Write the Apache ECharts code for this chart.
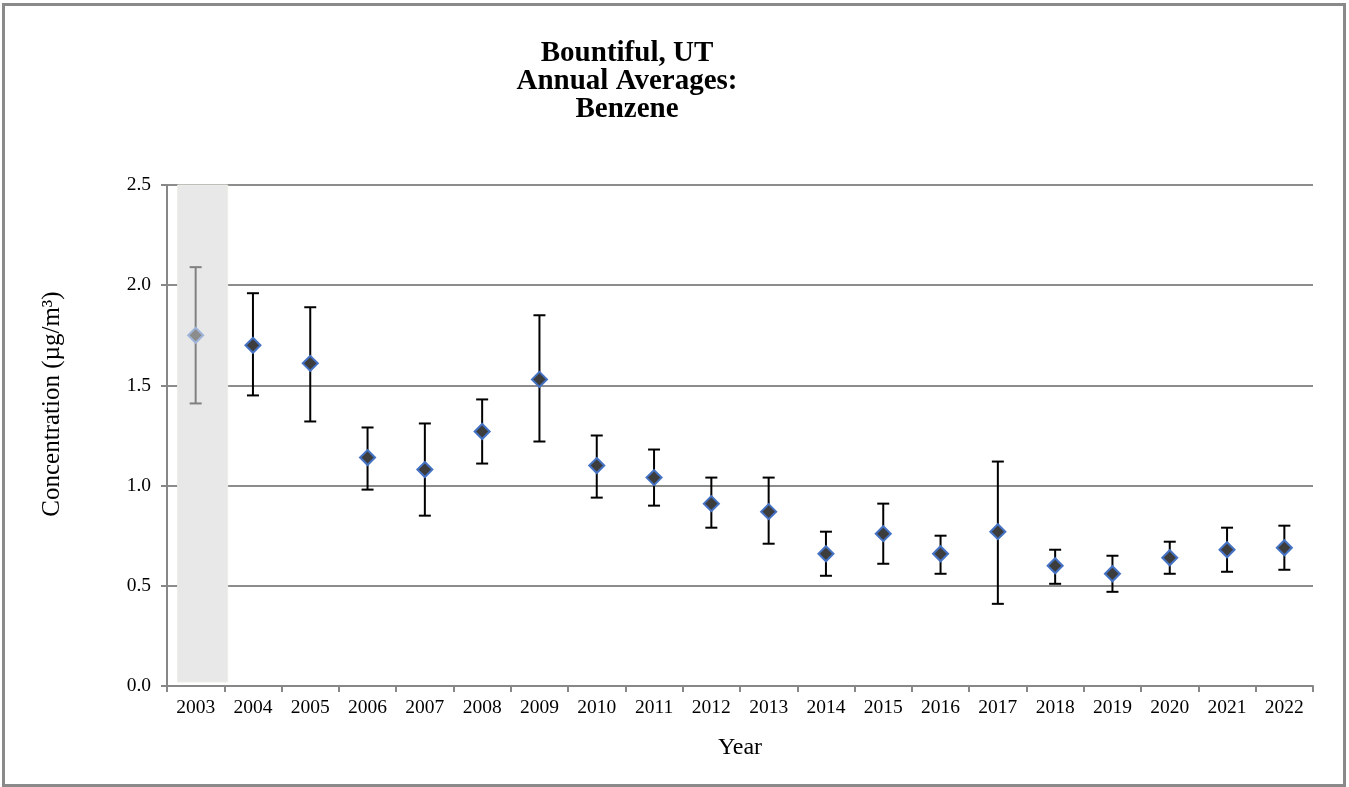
<!DOCTYPE html>
<html>
<head>
<meta charset="utf-8">
<script src="https://cdn.jsdelivr.net/npm/echarts@6/dist/echarts.min.js"></script>
<style>
  html, body { margin: 0; padding: 0; background: #fff; }
  #frame { position: absolute; left: 2px; top: 3px; width: 1344px; height: 784px; box-sizing: border-box; border: 3px solid #8a8a8a; }
  #chart { position: absolute; left: 0; top: 0; width: 1349px; height: 787px; }
</style>
</head>
<body>
<div id="frame"></div>
<div id="chart"></div>
<script>
// annual averages and 95% confidence interval bounds
const years = ['2003', '2004', '2005', '2006', '2007', '2008', '2009', '2010', '2011', '2012',
  '2013', '2014', '2015', '2016', '2017', '2018', '2019', '2020', '2021', '2022']
const means = [1.75, 1.70, 1.61, 1.14, 1.08, 1.27, 1.53, 1.10, 1.04, 0.91,
  0.87, 0.66, 0.76, 0.66, 0.77, 0.60, 0.56, 0.64, 0.68, 0.69]
const highs = [2.09, 1.96, 1.89, 1.29, 1.31, 1.43, 1.85, 1.25, 1.18, 1.04,
  1.04, 0.77, 0.91, 0.75, 1.12, 0.68, 0.65, 0.72, 0.79, 0.80]
const lows = [1.41, 1.45, 1.32, 0.98, 0.85, 1.11, 1.22, 0.94, 0.90, 0.79,
  0.71, 0.55, 0.61, 0.56, 0.41, 0.51, 0.47, 0.56, 0.57, 0.58]
const yTicks = [0, 0.5, 1.0, 1.5, 2.0, 2.5]
// incomplete year is shaded
const shadedYears = ['2003']

const chart = echarts.init(document.getElementById('chart'))
const serif = '"Liberation Serif", "Times New Roman", serif'

const errData = years.map((y, i) => [i, lows[i], highs[i]])
const pointData = means.map((v, i) => {
  if (shadedYears.includes(years[i])) {
    return { value: v, itemStyle: { color: '#8c8c8c', borderColor: '#9fb4d9' } }
  }
  return v
})
const shadeData = shadedYears.map(y => [years.indexOf(y), 2.5])

chart.setOption({
  animation: false,
  textStyle: { fontFamily: serif },
  grid: { left: 167, right: 36, top: 185, bottom: 101 },
  graphic: [
    {
      type: 'text',
      x: 627,
      y: 82,
      style: {
        text: 'Bountiful, UT\nAnnual Averages:\nBenzene',
        font: 'bold 29px ' + serif,
        fill: '#000',
        align: 'center',
        verticalAlign: 'middle',
        lineHeight: 28
      }
    },
    {
      type: 'text',
      x: 52,
      y: 404,
      rotation: Math.PI / 2,
      style: {
        text: 'Concentration (µg/m³)',
        font: '25px ' + serif,
        fill: '#000',
        align: 'center',
        verticalAlign: 'middle'
      }
    }
  ],
  xAxis: {
    type: 'category',
    data: years,
    name: 'Year',
    nameLocation: 'middle',
    nameGap: 50,
    nameTextStyle: { fontSize: 24, color: '#000', fontFamily: serif, verticalAlign: 'top' },
    axisLine: { lineStyle: { color: '#878787', width: 2 } },
    axisTick: { show: true, length: 6, lineStyle: { color: '#878787', width: 2 } },
    axisLabel: { fontSize: 19.5, color: '#000', margin: 12, fontFamily: serif },
    splitLine: { show: false }
  },
  yAxis: {
    type: 'value',
    min: 0,
    max: 2.5,
    interval: 0.5,
    axisLine: { show: true, lineStyle: { color: '#878787', width: 2 } },
    axisTick: { show: true, length: 6, lineStyle: { color: '#878787', width: 2 } },
    axisLabel: { fontSize: 19.5, color: '#000', margin: 16, fontFamily: serif,
      formatter: v => yTicks.includes(v) ? v.toFixed(1) : '' },
    splitLine: { lineStyle: { color: '#8c8c8c', width: 2 } }
  },
  series: [
    {
      type: 'custom',
      data: shadeData,
      silent: true,
      z: 1,
      renderItem: (params, api) => {
        const top = api.coord([api.value(0), api.value(1)])
        const bottom = api.coord([api.value(0), 0])
        return {
          type: 'rect',
          shape: { x: top[0] - 18, y: top[1], width: 50, height: bottom[1] - top[1] - 4 },
          style: { fill: '#e8e8e8', stroke: '#eeeee6', lineWidth: 1 }
        }
      }
    },
    {
      type: 'custom',
      data: errData,
      z: 3,
      renderItem: (params, api) => {
        const idx = api.value(0)
        const lo = api.coord([idx, api.value(1)])
        const hi = api.coord([idx, api.value(2)])
        const faded = shadedYears.includes(years[idx])
        const stroke = faded ? '#808080' : '#000'
        const w = 6
        return {
          type: 'group',
          children: [
            { type: 'line', shape: { x1: hi[0], y1: hi[1], x2: lo[0], y2: lo[1] }, style: { stroke, lineWidth: 2 } },
            { type: 'line', shape: { x1: hi[0] - w, y1: hi[1], x2: hi[0] + w, y2: hi[1] }, style: { stroke, lineWidth: 2 } },
            { type: 'line', shape: { x1: lo[0] - w, y1: lo[1], x2: lo[0] + w, y2: lo[1] }, style: { stroke, lineWidth: 2 } }
          ]
        }
      }
    },
    {
      type: 'scatter',
      data: pointData,
      symbol: 'diamond',
      symbolSize: 15,
      z: 4,
      itemStyle: { color: '#3d3d3d', borderColor: '#4472c4', borderWidth: 2, opacity: 1 }
    }
  ]
})
</script>
</body>
</html>
